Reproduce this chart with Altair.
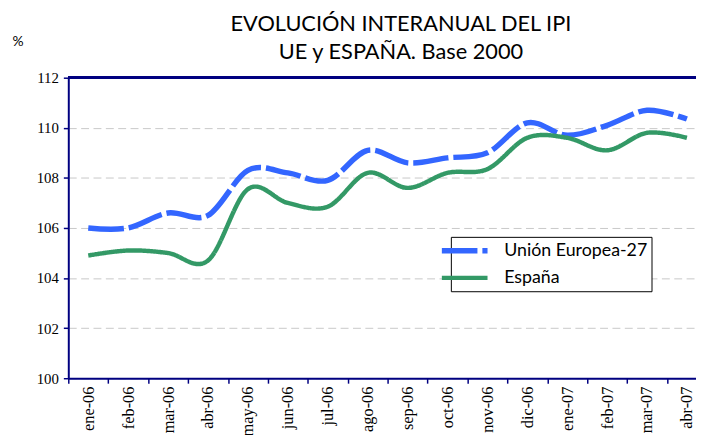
import altair as alt
import pandas as pd

months = ["ene-06", "feb-06", "mar-06", "abr-06", "may-06", "jun-06", "jul-06", "ago-06",
          "sep-06", "oct-06", "nov-06", "dic-06", "ene-07", "feb-07", "mar-07", "abr-07"]
ue = [106.0, 106.0, 106.6, 106.5, 108.3, 108.2, 107.9, 109.1,
      108.6, 108.8, 109.0, 110.2, 109.7, 110.1, 110.7, 110.35]
espana = [104.9, 105.1, 105.0, 104.7, 107.55, 107.0, 106.85, 108.2,
          107.6, 108.2, 108.35, 109.6, 109.6, 109.1, 109.8, 109.6]
series = ["Unión Europea-27", "España"]

rows = []
for name, vals in zip(series, [ue, espana]):
    for m, v in zip(months, vals):
        rows.append({"mes": m, "valor": v, "serie": name})
df = pd.DataFrame(rows)

NAVY = "#000080"
SERIF = "Liberation Serif"
SANS = "Lato"

x = alt.X("mes:N", sort=months, bandPosition=0.5,
          scale=alt.Scale(type="band", range=[0, 646], paddingInner=0, paddingOuter=0),
          axis=alt.Axis(title=None, labelAngle=-90, labelAlign="right", labelBaseline="middle",
                        labelFont=SERIF, labelFontSize=16.5, labelColor="black", labelPadding=3,
                        tickBand="extent", tickSize=5, tickColor=NAVY, tickWidth=1.5,
                        domainColor=NAVY, domainWidth=2, grid=False, labelOverlap=False))
y = alt.Y("valor:Q", scale=alt.Scale(domain=[100, 112], nice=False, zero=False),
          axis=alt.Axis(values=[100, 102, 104, 106, 108, 110, 112], title="%",
                        titleAngle=0, titleX=-57, titleY=-33, titleAlign="left",
                        titleBaseline="alphabetic", titleFont=SANS, titleFontSize=14,
                        titleFontWeight="normal", titleColor="black",
                        labelFont=SERIF, labelFontSize=15, labelColor="black", labelPadding=5,
                        tickSize=5, tickColor=NAVY, tickWidth=1.5,
                        domainColor=NAVY, domainWidth=2,
                        grid=True, gridColor="#c8c8c8", gridDash=[8, 4.5], gridWidth=1))

lines = alt.Chart(df).mark_line(interpolate="cardinal").encode(
    x=x,
    y=y,
    color=alt.Color("serie:N", sort=series,
                    scale=alt.Scale(domain=series, range=["#3366FF", "#339966"]),
                    legend=alt.Legend(title=None, orient="none", legendX=387, legendY=161,
                                      fillColor="white", strokeColor="black", padding=4,
                                      symbolType="M-3.3,0H3.3", symbolSize=196,
                                      symbolStrokeWidth=5, labelFont=SANS,
                                      labelFontSize=18, labelColor="black",
                                      labelOffset=30, rowPadding=7, labelLimit=300)),
    strokeDash=alt.StrokeDash("serie:N", sort=series,
                              scale=alt.Scale(domain=series, range=[[36, 5], [1, 0]]),
                              legend=None),
    strokeWidth=alt.StrokeWidth("serie:N", sort=series,
                                scale=alt.Scale(domain=series, range=[5.5, 4.5]),
                                legend=None),
)

top_rule = alt.Chart(df).mark_rule(color=NAVY, strokeWidth=2).encode(y=alt.datum(112))

chart = alt.layer(lines, top_rule).properties(
    width=635, height=304,
    autosize="none",
    padding={"left": 61, "top": 68, "right": 0, "bottom": 62},
    title=alt.TitleParams(["EVOLUCIÓN INTERANUAL DEL IPI", "UE y ESPAÑA. Base 2000"],
                          anchor="middle", dx=19, font=SANS, fontSize=22,
                          fontWeight="normal", color="black", lineHeight=28, offset=-30),
).configure_view(stroke=None)

chart.save("out.html", embed_options={"renderer": "svg", "actions": False})
